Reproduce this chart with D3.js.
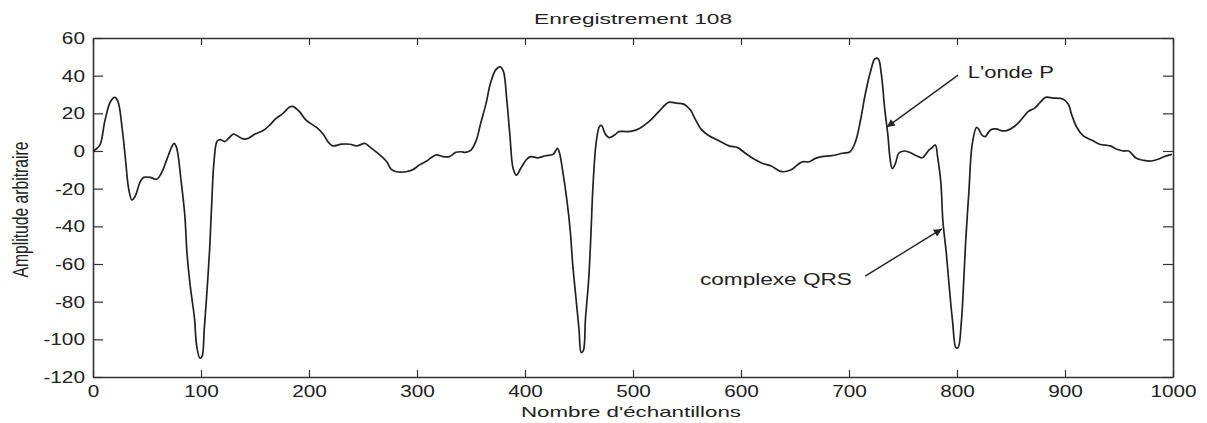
<!DOCTYPE html>
<html>
<head>
<meta charset="utf-8">
<script src="https://cdn.jsdelivr.net/npm/d3@7"></script>
<style>
  html, body { margin: 0; padding: 0; background: #fff; }
  svg { display: block; font-family: "Liberation Sans", Arial, Helvetica, sans-serif; }
</style>
</head>
<body>
<svg id="chart" width="1207" height="423"></svg>
<script>
// ECG record 108: sample index and amplitude (arbitrary units)
const sampleIdx = [
  0, 4, 7, 11, 16, 20, 23, 27, 30, 33, 36, 39, 44, 47, 53, 59, 64, 67, 70, 73,
  75, 77, 79, 81, 85, 87, 90, 94, 96, 99, 101, 103, 105, 108, 110, 112, 115, 118, 122, 126,
  130, 135, 139, 144, 150, 158, 164, 169, 176, 182, 185, 191, 197, 207, 213, 218, 222, 230, 238, 244,
  252, 256, 265, 272, 276, 281, 290, 296, 302, 309, 313, 318, 324, 330, 336, 341, 345, 350, 355, 359,
  364, 368, 373, 377, 380, 383, 386, 389, 392, 396, 401, 405, 412, 419, 426, 430, 432, 435, 439, 442,
  444, 447, 450, 452, 454, 456, 459, 461, 463, 466, 469, 471, 474, 478, 483, 487, 494, 500, 506, 515,
  524, 533, 540, 547, 553, 558, 563, 570, 580, 589, 597, 604, 612, 620, 628, 634, 638, 646, 652, 657,
  663, 669, 675, 684, 694, 701, 706, 711, 715, 720, 724, 727, 730, 733, 736, 738, 740, 743, 746, 751,
  756, 761, 768, 771, 774, 777, 780, 782, 785, 787, 790, 793, 796, 799, 801, 804, 806, 808, 811, 814,
  818, 820, 823, 826, 831, 836, 842, 846, 854, 860, 866, 872, 877, 882, 889, 898, 903, 906, 911, 917,
  925, 932, 942, 948, 954, 959, 966, 973, 980, 986, 993, 999
];
const amplitude = [
  0, 1.5, 4, 16, 26, 28.5, 26.5, 12, -4, -20, -26, -24, -16, -14, -14, -15, -11, -6.6, -2, 2.3,
  4, 2.5, -3, -13, -34, -54, -71.5, -89, -103.5, -110, -109, -94.6, -79, -52, -27, -6, 5.3, 6, 5, 7,
  9, 7.6, 6.4, 6.8, 9, 11, 14, 17, 20, 23.3, 23.7, 21, 16.5, 12.5, 9, 4.6, 2.7, 3.6, 3.6, 2.7,
  4, 2.3, -1.8, -5.7, -9.6, -11, -11, -10, -7.5, -5.3, -3.6, -2.1, -3, -3, -0.7, -0.4, -0.7, 0.5, 5.9, 14.8,
  25.4, 36, 43.2, 44.7, 42.3, 28, 8.5, -9.3, -12.8, -9.3, -4.8, -3, -3.6, -2.5, -1.8, 1.4, -1.2, -11, -27, -43,
  -59, -77, -94.7, -107, -106, -89, -68, -44.8, -18, 5, 13, 13.5, 9.4, 7.1, 8.5, 10.3, 10.3, 10.7, 12, 15.7,
  21, 25.8, 25.4, 24.9, 21.9, 16.5, 11.6, 8.2, 5.3, 2.7, 1.8, -1.2, -4.3, -6.6, -8, -10.1, -11, -10.1, -7.5, -5.7,
  -5.7, -3.9, -3, -2.5, -1.2, -0.4, 5, 17.4, 30, 42.3, 49, 49, 40.6, 22.8, 8.5, -3.9, -9.3, -6.6, -1.2, 0,
  -0.7, -2.1, -3.6, -1.8, 0.5, 1.8, 3.2, -3, -16.4, -37.7, -53.7, -73.3, -91, -104.4, -104.4, -91, -71.5, -48.4, -21.7, 3.2,
  12.5, 11.7, 8.5, 7.6, 11.2, 11.7, 10.7, 10.8, 13.4, 17, 21, 22.8, 25.8, 28.5, 28.1, 27.6, 25, 19.6, 12.5, 8,
  5.7, 3.6, 2.7, 0.9, 0, 0, -3.9, -5, -5.3, -4.4, -2.7, -1.8
];

// Axis ticks
const xTicks = [0, 100, 200, 300, 400, 500, 600, 700, 800, 900, 1000];
const yTicks = [-120, -100, -80, -60, -40, -20, 0, 20, 40, 60];

// Annotations: label, label anchor, arrow tail and arrow head (data units)
const annotLabels = ["L'onde P", "complexe QRS"];
const annotLabelPos = [[810, 38.8], [562, -71.2]];
const annotArrowFrom = [[801, 40.3], [715, -66.4]];
const annotArrowTo = [[735, 12.7], [786, -41.4]];

const titleText = "Enregistrement 108";
const xLabel = "Nombre d'échantillons";
const yLabel = "Amplitude arbitraire";

const W = 1207, H = 423;
const margin = { top: 38, right: 34, bottom: 46, left: 93 };
const iw = W - margin.left - margin.right;
const ih = H - margin.top - margin.bottom;
const ink = "#222";
const stretch = 1.3;
// plain hyphen for negative numbers
const tickFmt = d => String(d);

const svg = d3.select("#chart");
const defs = svg.append("defs");
defs.append("marker")
  .attr("id", "arrowhead")
  .attr("viewBox", "0 0 10 10")
  .attr("refX", 10).attr("refY", 5)
  .attr("markerWidth", 11).attr("markerHeight", 8)
  .attr("markerUnits", "userSpaceOnUse")
  .attr("orient", "auto")
  .append("path")
  .attr("d", "M0,0 L10,5 L0,10 Z")
  .attr("fill", ink);

const g = svg.append("g").attr("transform", `translate(${margin.left},${margin.top})`);

const x = d3.scaleLinear().domain([0, 1000]).range([0, iw]);
const y = d3.scaleLinear().domain([-120, 60]).range([ih, 0]);

// Axes with inward ticks on all four sides
function styleAxis(sel) {
  sel.select(".domain").attr("stroke", "#333").attr("stroke-width", 1.6);
  sel.selectAll(".tick line").attr("stroke", "#333").attr("stroke-width", 1.2);
  sel.selectAll("text").attr("fill", ink).attr("font-size", 16)
    .attr("font-family", '"Liberation Sans", Arial, sans-serif');
}

const xAxis = g.append("g").attr("transform", `translate(0,${ih})`)
  .call(d3.axisBottom(x).tickValues(xTicks).tickSizeInner(-7).tickSizeOuter(0).tickFormat(tickFmt));
styleAxis(xAxis);
xAxis.selectAll("text").attr("y", 9).attr("dy", "0.71em")
  .attr("transform", `scale(${stretch},1)`);

const xAxisTop = g.append("g")
  .call(d3.axisTop(x).tickValues(xTicks).tickSizeInner(-7).tickSizeOuter(0).tickFormat(""));
styleAxis(xAxisTop);

const yAxis = g.append("g")
  .call(d3.axisLeft(y).tickValues(yTicks).tickSizeInner(-10).tickSizeOuter(0).tickFormat(tickFmt));
styleAxis(yAxis);
yAxis.selectAll("text").attr("x", 0).attr("dy", "0.34em")
  .attr("transform", `translate(-8,0) scale(${stretch},1)`);

const yAxisRight = g.append("g").attr("transform", `translate(${iw},0)`)
  .call(d3.axisRight(y).tickValues(yTicks).tickSizeInner(-10).tickSizeOuter(0).tickFormat(""));
styleAxis(yAxisRight);

// Signal trace
const series = sampleIdx.map((s, i) => ({ s, v: amplitude[i] }));
const line = d3.line()
  .x(d => x(d.s))
  .y(d => y(d.v))
  .curve(d3.curveCatmullRom.alpha(0.5));

g.append("path")
  .datum(series)
  .attr("fill", "none")
  .attr("stroke", ink)
  .attr("stroke-width", 1.7)
  .attr("stroke-linejoin", "round")
  .attr("d", line);

// Annotations
annotLabels.forEach((label, i) => {
  g.append("line")
    .attr("x1", x(annotArrowFrom[i][0])).attr("y1", y(annotArrowFrom[i][1]))
    .attr("x2", x(annotArrowTo[i][0])).attr("y2", y(annotArrowTo[i][1]))
    .attr("stroke", ink).attr("stroke-width", 1.4)
    .attr("marker-end", "url(#arrowhead)");
  g.append("text")
    .attr("x", x(annotLabelPos[i][0])).attr("y", y(annotLabelPos[i][1]))
    .attr("fill", ink).attr("font-size", 16)
    .attr("textLength", i === 0 ? 86 : 152)
    .attr("lengthAdjust", "spacingAndGlyphs")
    .text(label);
});

// Title and axis labels
svg.append("text")
  .attr("x", margin.left + iw / 2).attr("y", 24)
  .attr("text-anchor", "middle").attr("fill", ink).attr("font-size", 15)
  .attr("textLength", 198).attr("lengthAdjust", "spacingAndGlyphs")
  .text(titleText);

svg.append("text")
  .attr("x", margin.left + iw / 2 - 2).attr("y", 417)
  .attr("text-anchor", "middle").attr("fill", ink).attr("font-size", 15)
  .attr("textLength", 220).attr("lengthAdjust", "spacingAndGlyphs")
  .text(xLabel);

svg.append("text")
  .attr("transform", `translate(28,${margin.top + ih / 2 + 2}) scale(1.4,1) rotate(-90)`)
  .attr("text-anchor", "middle").attr("fill", ink).attr("font-size", 15.5)
  .attr("textLength", 136).attr("lengthAdjust", "spacingAndGlyphs")
  .text(yLabel);
</script>
</body>
</html>
